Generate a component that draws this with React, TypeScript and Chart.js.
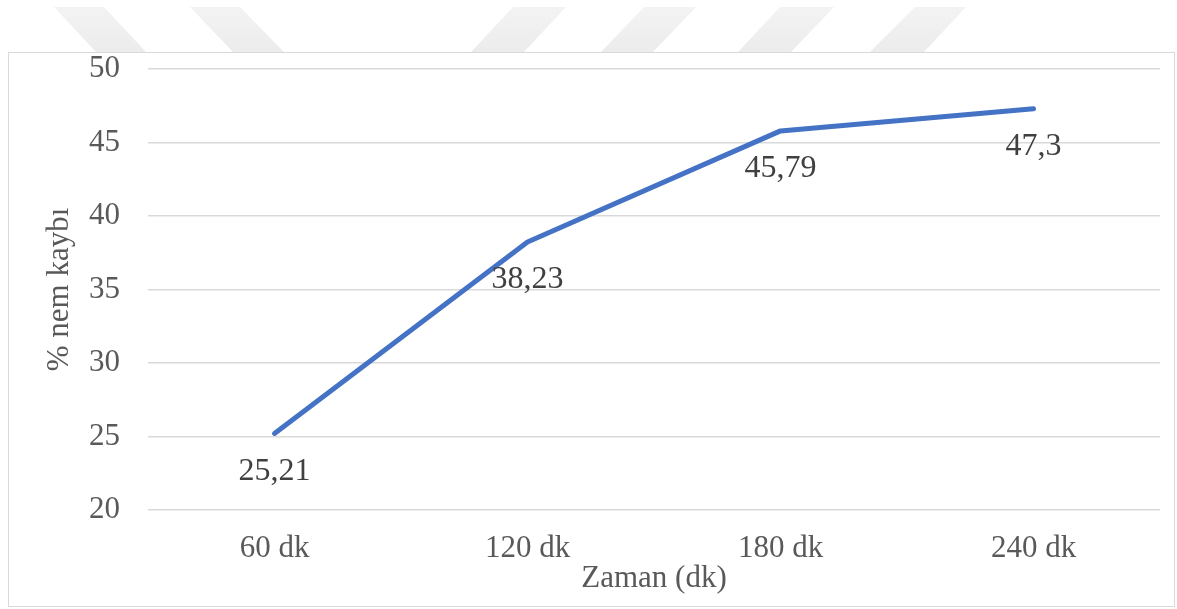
import React, { useEffect, useRef } from "react";
import { Chart, registerables } from "chart.js";

Chart.register(...registerables);

const categories = ["60 dk", "120 dk", "180 dk", "240 dk"];
const moistureLoss = [25.21, 38.23, 45.79, 47.3];
const yTicks = [20, 25, 30, 35, 40, 45, 50];
const yTitle = "% nem kaybı";
const xTitle = "Zaman (dk)";

// Decorative watermark stripes at the top of the page: [topLeft, topRight, bottomLeft, bottomRight]
const watermarkStripes = [
  [54, 104, 96, 146],
  [190, 240, 233, 284],
  [513, 566, 471, 524],
  [644, 696, 601, 653],
  [780, 834, 738, 791],
  [915, 966, 870, 924],
];

const FONT = "'Liberation Serif', 'Times New Roman', serif";

const decorPlugin = {
  id: "decor",
  beforeDraw(chart: any) {
    const ctx = chart.ctx;
    ctx.save();
    ctx.fillStyle = "#ffffff";
    ctx.fillRect(0, 0, chart.width, chart.height);
    const grad = ctx.createLinearGradient(0, 7, 0, 52);
    grad.addColorStop(0, "#f3f3f3");
    grad.addColorStop(1, "#ececec");
    ctx.fillStyle = grad;
    for (const s of watermarkStripes) {
      ctx.beginPath();
      ctx.moveTo(s[0], 7);
      ctx.lineTo(s[1], 7);
      ctx.lineTo(s[3], 52);
      ctx.lineTo(s[2], 52);
      ctx.closePath();
      ctx.fill();
    }
    ctx.fillStyle = "#ffffff";
    ctx.fillRect(8.5, 52.5, 1166, 554);
    ctx.strokeStyle = "#d9d9d9";
    ctx.lineWidth = 1;
    ctx.strokeRect(8.5, 52.5, 1166, 554);
    ctx.restore();
  },
  afterDatasetsDraw(chart: any) {
    const ctx = chart.ctx;
    const meta = chart.getDatasetMeta(0);
    const data = chart.data.datasets[0].data as number[];
    ctx.save();
    ctx.font = `32px ${FONT}`;
    ctx.fillStyle = "#404040";
    ctx.textAlign = "center";
    ctx.textBaseline = "middle";
    meta.data.forEach((pt: any, i: number) => {
      const txt = String(data[i]).replace(".", ",");
      ctx.fillText(txt, pt.x, pt.y + 38);
    });
    ctx.restore();
  },
};

export default function App() {
  const ref = useRef<HTMLCanvasElement | null>(null);
  useEffect(() => {
    document.body.style.margin = "0";
    const canvas = ref.current!;
    const chart = new Chart(canvas, {
      type: "line",
      data: {
        labels: categories,
        datasets: [
          {
            data: moistureLoss,
            borderColor: "#4472C4",
            backgroundColor: "#4472C4",
            borderWidth: 5,
            borderCapStyle: "round",
            borderJoinStyle: "round",
            pointRadius: 0,
            tension: 0,
          },
        ],
      },
      options: {
        animation: false,
        responsive: false,
        maintainAspectRatio: false,
        layout: { padding: { top: 69, right: 17, left: 0, bottom: 0 } },
        plugins: { legend: { display: false }, tooltip: { enabled: false } },
        scales: {
          x: {
            offset: true,
            grid: { display: false, drawTicks: false },
            border: { display: false },
            ticks: {
              padding: 20,
              color: "#595959",
              font: { family: FONT, size: 31 },
              maxRotation: 0,
            },
            title: {
              display: true,
              text: xTitle,
              color: "#595959",
              font: { family: FONT, size: 31 },
              padding: { top: 0, bottom: 12 },
            },
            afterFit: (s: any) => {
              s.height = 99;
            },
          },
          y: {
            min: 20,
            max: 50,
            afterBuildTicks: (s: any) => {
              s.ticks = yTicks.map((v) => ({ value: v }));
            },
            grid: { color: "#d9d9d9", lineWidth: 1.5, drawTicks: false },
            border: { display: false },
            ticks: {
              padding: 28,
              color: "#595959",
              font: { family: FONT, size: 31 },
            },
            title: {
              display: true,
              text: yTitle,
              color: "#595959",
              font: { family: FONT, size: 31 },
              padding: { top: 41, bottom: 0 },
            },
            afterFit: (s: any) => {
              s.width = 148;
            },
          },
        },
      },
      plugins: [decorPlugin],
    });
    return () => chart.destroy();
  }, []);
  return (
    <div style={{ width: 1177, height: 609 }}>
      <canvas ref={ref} width={1177} height={609} style={{ display: "block" }} />
    </div>
  );
}
